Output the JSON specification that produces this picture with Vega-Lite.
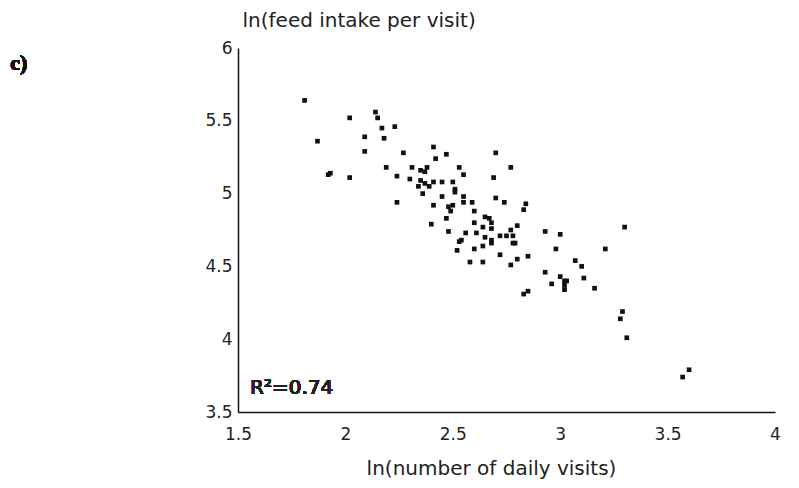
{
  "$schema": "https://vega.github.io/schema/vega-lite/v6.json",
  "autosize": "none",
  "width": 537,
  "height": 364,
  "padding": {"left": 238, "top": 48, "right": 24, "bottom": 76},
  "background": "white",
  "config": {
    "view": {"stroke": null},
    "font": "DejaVu Sans",
    "axis": {
      "grid": false,
      "ticks": false,
      "tickSize": 0,
      "domainColor": "#111111",
      "domainWidth": 1.5,
      "labelFont": "DejaVu Sans",
      "labelFontSize": 17,
      "labelColor": "#222222",
      "labelOverlap": false,
      "labelFlush": false,
      "labelBound": false,
      "titleFont": "DejaVu Sans",
      "titleFontSize": 20,
      "titleFontWeight": "normal",
      "titleColor": "#222222"
    }
  },
  "data": {
    "values": [
      {"visits": 1.81, "intake": 5.64}, {"visits": 1.87, "intake": 5.36}, {"visits": 1.92, "intake": 5.13},
      {"visits": 1.93, "intake": 5.14}, {"visits": 2.02, "intake": 5.52}, {"visits": 2.02, "intake": 5.11},
      {"visits": 2.09, "intake": 5.39}, {"visits": 2.09, "intake": 5.29}, {"visits": 2.14, "intake": 5.56},
      {"visits": 2.15, "intake": 5.52}, {"visits": 2.17, "intake": 5.45}, {"visits": 2.18, "intake": 5.38},
      {"visits": 2.19, "intake": 5.18}, {"visits": 2.23, "intake": 5.46}, {"visits": 2.24, "intake": 5.12},
      {"visits": 2.24, "intake": 4.94}, {"visits": 2.27, "intake": 5.28}, {"visits": 2.30, "intake": 5.10},
      {"visits": 2.31, "intake": 5.18}, {"visits": 2.34, "intake": 5.05}, {"visits": 2.35, "intake": 5.16},
      {"visits": 2.35, "intake": 5.09}, {"visits": 2.36, "intake": 5.00}, {"visits": 2.37, "intake": 5.15},
      {"visits": 2.37, "intake": 5.07}, {"visits": 2.38, "intake": 5.18}, {"visits": 2.39, "intake": 5.05},
      {"visits": 2.40, "intake": 4.79}, {"visits": 2.41, "intake": 5.32}, {"visits": 2.41, "intake": 5.08},
      {"visits": 2.41, "intake": 4.92}, {"visits": 2.42, "intake": 5.24}, {"visits": 2.45, "intake": 5.08},
      {"visits": 2.45, "intake": 4.98}, {"visits": 2.47, "intake": 5.27}, {"visits": 2.47, "intake": 4.83},
      {"visits": 2.48, "intake": 4.91}, {"visits": 2.48, "intake": 4.74}, {"visits": 2.49, "intake": 4.88},
      {"visits": 2.50, "intake": 5.08}, {"visits": 2.50, "intake": 4.92}, {"visits": 2.51, "intake": 5.03},
      {"visits": 2.51, "intake": 5.01}, {"visits": 2.52, "intake": 4.61}, {"visits": 2.53, "intake": 5.18},
      {"visits": 2.53, "intake": 4.67}, {"visits": 2.54, "intake": 4.68}, {"visits": 2.55, "intake": 5.13},
      {"visits": 2.55, "intake": 4.98}, {"visits": 2.55, "intake": 4.94}, {"visits": 2.56, "intake": 4.73},
      {"visits": 2.58, "intake": 4.53}, {"visits": 2.59, "intake": 4.94}, {"visits": 2.60, "intake": 4.88},
      {"visits": 2.60, "intake": 4.80}, {"visits": 2.60, "intake": 4.62}, {"visits": 2.61, "intake": 4.73},
      {"visits": 2.64, "intake": 4.77}, {"visits": 2.64, "intake": 4.64}, {"visits": 2.64, "intake": 4.53},
      {"visits": 2.65, "intake": 4.84}, {"visits": 2.65, "intake": 4.70}, {"visits": 2.67, "intake": 4.83},
      {"visits": 2.68, "intake": 4.80}, {"visits": 2.68, "intake": 4.76}, {"visits": 2.68, "intake": 4.68},
      {"visits": 2.68, "intake": 4.66}, {"visits": 2.69, "intake": 5.11}, {"visits": 2.70, "intake": 5.28},
      {"visits": 2.70, "intake": 4.97}, {"visits": 2.72, "intake": 4.71}, {"visits": 2.72, "intake": 4.58},
      {"visits": 2.74, "intake": 4.94}, {"visits": 2.75, "intake": 4.71}, {"visits": 2.77, "intake": 5.18},
      {"visits": 2.77, "intake": 4.75}, {"visits": 2.77, "intake": 4.51}, {"visits": 2.78, "intake": 4.71},
      {"visits": 2.78, "intake": 4.66}, {"visits": 2.79, "intake": 4.66}, {"visits": 2.80, "intake": 4.78},
      {"visits": 2.80, "intake": 4.55}, {"visits": 2.83, "intake": 4.89}, {"visits": 2.84, "intake": 4.93},
      {"visits": 2.85, "intake": 4.57}, {"visits": 2.83, "intake": 4.31}, {"visits": 2.85, "intake": 4.33},
      {"visits": 2.93, "intake": 4.74}, {"visits": 2.93, "intake": 4.46}, {"visits": 2.96, "intake": 4.38},
      {"visits": 2.98, "intake": 4.62}, {"visits": 3.00, "intake": 4.72}, {"visits": 3.00, "intake": 4.43},
      {"visits": 3.02, "intake": 4.40}, {"visits": 3.03, "intake": 4.40}, {"visits": 3.02, "intake": 4.37},
      {"visits": 3.02, "intake": 4.34}, {"visits": 3.07, "intake": 4.54}, {"visits": 3.10, "intake": 4.50},
      {"visits": 3.11, "intake": 4.42}, {"visits": 3.16, "intake": 4.35}, {"visits": 3.21, "intake": 4.62},
      {"visits": 3.30, "intake": 4.77}, {"visits": 3.29, "intake": 4.19}, {"visits": 3.28, "intake": 4.14},
      {"visits": 3.31, "intake": 4.01}, {"visits": 3.60, "intake": 3.79}, {"visits": 3.57, "intake": 3.74}
    ]
  },
  "layer": [
    {
      "mark": {"type": "point", "shape": "square", "filled": true, "size": 22, "color": "#111111", "opacity": 1},
      "encoding": {
        "x": {
          "field": "visits", "type": "quantitative",
          "scale": {"domain": [1.5, 4], "nice": false, "zero": false},
          "axis": {
            "title": "ln(number of daily visits)",
            "values": [1.5, 2, 2.5, 3, 3.5, 4],
            "format": "~g",
            "labelPadding": 14,
            "titleX": 253,
            "titleAlign": "center",
            "titleY": 56,
            "titleBaseline": "middle"
          }
        },
        "y": {
          "field": "intake", "type": "quantitative",
          "scale": {"domain": [3.5, 6], "nice": false, "zero": false},
          "axis": {
            "title": "ln(feed intake per visit)",
            "values": [3.5, 4, 4.5, 5, 5.5, 6],
            "format": "~g",
            "labelPadding": 6,
            "titleAngle": 0,
            "titleAlign": "left",
            "titleBaseline": "middle",
            "titleX": 4,
            "titleY": -28
          }
        }
      }
    },
    {
      "mark": {"type": "text", "text": "R²=0.74", "align": "left", "baseline": "middle", "fontSize": 20, "font": "DejaVu Sans", "color": "#222222"},
      "encoding": {
        "x": {"datum": 1.556},
        "y": {"datum": 3.665}
      }
    },
    {
      "mark": {"type": "text", "text": "c)", "align": "left", "baseline": "middle", "fontSize": 22, "font": "Liberation Serif", "fontWeight": "bold", "color": "#111111"},
      "encoding": {
        "x": {"datum": 0.44},
        "y": {"datum": 5.897}
      }
    }
  ]
}
